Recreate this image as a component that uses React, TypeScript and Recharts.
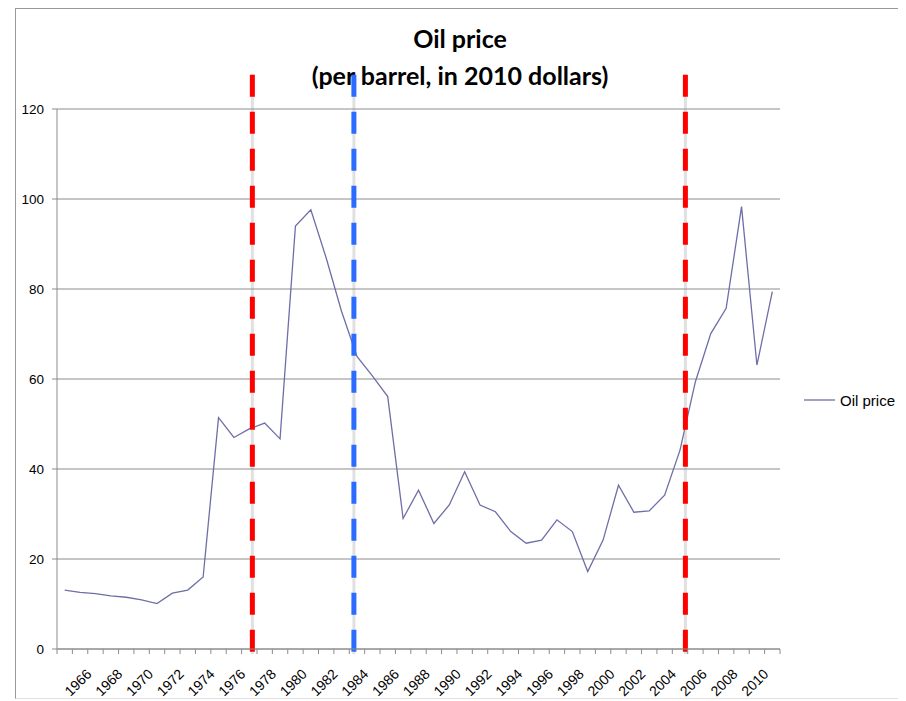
import React from 'react';
import { LineChart, Line, XAxis, YAxis, CartesianGrid, ReferenceLine, Legend } from 'recharts';

const years = [
  1964, 1965, 1966, 1967, 1968, 1969, 1970, 1971, 1972, 1973,
  1974, 1975, 1976, 1977, 1978, 1979, 1980, 1981, 1982, 1983,
  1984, 1985, 1986, 1987, 1988, 1989, 1990, 1991, 1992, 1993,
  1994, 1995, 1996, 1997, 1998, 1999, 2000, 2001, 2002, 2003,
  2004, 2005, 2006, 2007, 2008, 2009, 2010,
];

// per barrel, 2010 dollars
const prices = [
  13.1, 12.6, 12.3, 11.8, 11.5, 10.9, 10.1, 12.4, 13.1, 16.0,
  51.4, 47.0, 48.9, 50.2, 46.7, 94.0, 97.6, 86.9, 75.0, 65.0,
  60.7, 56.1, 29.0, 35.3, 27.9, 32.0, 39.4, 32.0, 30.5, 26.1,
  23.5, 24.2, 28.7, 26.1, 17.2, 24.2, 36.4, 30.4, 30.7, 34.2,
  44.2, 59.4, 70.1, 75.7, 98.3, 63.1, 79.4,
];

const yearLabels = [
  1966, 1968, 1970, 1972, 1974, 1976, 1978, 1980, 1982, 1984, 1986, 1988,
  1990, 1992, 1994, 1996, 1998, 2000, 2002, 2004, 2006, 2008, 2010,
];
const priceTicks = [0, 20, 40, 60, 80, 100, 120];

// dashed markers drawn over the chart
const markerYears = [1976.2, 1982.8, 2004.35];
const markerColors = ['#ff0000', '#2b6bff', '#ff0000'];
const markerSpan = [127.6, -1.1];

const data = years.map((year, i) => ({ year, price: prices[i] }));
const yearEdges = [...years.map((y) => y - 0.5), years[years.length - 1] + 0.5];
const yearDomain = [yearEdges[0], yearEdges[yearEdges.length - 1]];

const lineColor = '#6e6ea8';
const axisGray = '#8c8c8c';
const font = '"Liberation Sans", Arial, sans-serif';

const YearTick = ({ x, y, payload }: any) => {
  const ax = x - 3;
  const ay = y + 10;
  return (
    <text
      x={ax}
      y={ay}
      transform={`rotate(-45, ${ax}, ${ay})`}
      textAnchor="end"
      fontSize={14}
      fontFamily={font}
      fill="#000"
    >
      {payload.value}
    </text>
  );
};

const NoLabel = () => <g />;

const LegendItem = () => (
  <div style={{ display: 'flex', alignItems: 'center', height: 16, fontSize: 15, fontFamily: font, color: '#000' }}>
    <svg width={31} height={4}>
      <line x1={0} y1={2} x2={31} y2={2} stroke={lineColor} strokeWidth={1.3} />
    </svg>
    <span style={{ marginLeft: 5 }}>Oil price</span>
  </div>
);

const App = () => {
  return (
    <div style={{ position: 'relative', width: 898, height: 693 }}>
      <div
        style={{
          position: 'absolute',
          left: 7,
          top: -1,
          width: 888,
          height: 689,
          borderTop: '2px solid #999',
          borderLeft: '1px solid #999',
          borderRight: '1px solid #c8c8c8',
          borderBottom: '1px solid #e0e0e0',
        }}
      />
      <div
        style={{
          position: 'absolute',
          left: 7,
          top: 12,
          width: 890,
          textAlign: 'center',
          fontFamily: 'Lato, "Open Sans", sans-serif',
          fontWeight: 700,
          fontSize: 25,
          lineHeight: '37px',
          color: '#000',
        }}
      >
        Oil price
        <br />
        (per barrel, in 2010 dollars)
      </div>
      <LineChart
        width={898}
        height={693}
        data={data}
        margin={{ top: 101, right: 126, bottom: 0, left: 5 }}
        style={{ position: 'absolute', left: 0, top: 0 }}
      >
        <CartesianGrid xAxisId="years" vertical={false} stroke={axisGray} />
        <XAxis
          xAxisId="edges"
          dataKey="year"
          type="number"
          domain={yearDomain}
          ticks={yearEdges}
          interval={0}
          tick={<NoLabel />}
          tickSize={5}
          height={8}
          stroke={axisGray}
        />
        <XAxis
          xAxisId="years"
          dataKey="year"
          type="number"
          domain={yearDomain}
          ticks={yearLabels}
          interval={0}
          tick={<YearTick />}
          tickLine={false}
          axisLine={false}
          height={44}
        />
        <YAxis
          domain={[0, 120]}
          ticks={priceTicks}
          interval={0}
          tickSize={5}
          tickMargin={8}
          width={44}
          stroke={axisGray}
          tick={{ fill: '#000', fontSize: 13.5, fontFamily: font }}
        />
        <Line
          xAxisId="years"
          type="linear"
          dataKey="price"
          name="Oil price"
          stroke={lineColor}
          strokeWidth={1.3}
          dot={false}
          isAnimationActive={false}
        />
        {markerYears.map((yr, i) => (
          <ReferenceLine
            key={`shadow-${i}`}
            xAxisId="years"
            ifOverflow="visible"
            segment={[{ x: yr, y: markerSpan[0] }, { x: yr, y: markerSpan[1] }]}
            stroke="#999"
            strokeOpacity={0.3}
            strokeWidth={3}
          />
        ))}
        {markerYears.map((yr, i) => (
          <ReferenceLine
            key={`marker-${i}`}
            xAxisId="years"
            ifOverflow="visible"
            segment={[{ x: yr, y: markerSpan[0] }, { x: yr, y: markerSpan[1] }]}
            stroke={markerColors[i]}
            strokeWidth={5}
            strokeDasharray="22 15"
          />
        ))}
        <Legend
          layout="horizontal"
          align="center"
          verticalAlign="middle"
          content={<LegendItem />}
          wrapperStyle={{ left: 796, top: 384, width: 102, height: 16 }}
        />
      </LineChart>
    </div>
  );
};

export default App;
